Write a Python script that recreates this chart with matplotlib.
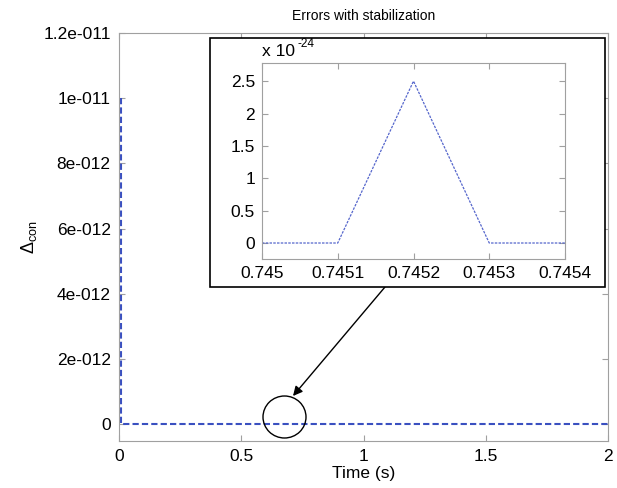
import matplotlib
matplotlib.use("Agg")
import matplotlib.pyplot as plt
from matplotlib.patches import Ellipse, Rectangle

plt.rcParams['font.family'] = ['Liberation Sans', 'DejaVu Sans']
plt.rcParams['mathtext.fontset'] = 'custom'
plt.rcParams['mathtext.rm'] = 'Liberation Sans'
plt.rcParams['mathtext.it'] = 'Liberation Sans:italic'
plt.rcParams['axes.unicode_minus'] = False

# Main series
time_main = [0.01, 0.01, 2.0]
err_main = [1e-11, 0.0, 0.0]
main_yticks = [0, 2e-12, 4e-12, 6e-12, 8e-12, 1e-11, 1.2e-11]
main_yticklabels = ['0', '2e-012', '4e-012', '6e-012', '8e-012', '1e-011', '1.2e-011']
main_xticks = [0, 0.5, 1, 1.5, 2]
main_xticklabels = ['0', '0.5', '1', '1.5', '2']

# Inset series (values in units of 1e-24)
time_inset = [0.745, 0.7451, 0.7452, 0.7453, 0.7454]
err_inset = [0.0, 0.0, 2.5, 0.0, 0.0]
inset_xticks = [0.745, 0.7451, 0.7452, 0.7453, 0.7454]
inset_xticklabels = ['0.745', '0.7451', '0.7452', '0.7453', '0.7454']
inset_yticks = [0, 0.5, 1, 1.5, 2, 2.5]
inset_yticklabels = ['0', '0.5', '1', '1.5', '2', '2.5']

W, H = 617, 488
fig = plt.figure(figsize=(W / 100, H / 100), dpi=100)

def fx(p):
    return p / W

def fy(p):
    return 1 - p / H

grey = '#a0a0a0'
ax = fig.add_axes([fx(119), fy(441), fx(608) - fx(119), fy(33) - fy(441)])
ax.plot(time_main, err_main, color='#3a50c0', linestyle=(0, (3, 1.5)), linewidth=1.5)
ax.set_xlim(0, 2)
ax.set_ylim(-0.52e-12, 1.2e-11)
ax.set_xticks(main_xticks)
ax.set_xticklabels(main_xticklabels)
ax.set_yticks(main_yticks)
ax.set_yticklabels(main_yticklabels)
ax.tick_params(direction='in', top=True, right=True, color=grey, length=4,
               labelsize=12.5, pad=6)
for s in ax.spines.values():
    s.set_color(grey)
ax.set_xlabel('Time (s)', fontsize=12.5, labelpad=1)
ax.set_ylabel('Δ$_{\\mathrm{con}}$', fontsize=13, labelpad=3)
ax.set_title('Errors with stabilization', fontsize=10, pad=9)

# Inset frame
frame = Rectangle((fx(210), fy(287)), fx(605) - fx(210), fy(38) - fy(287),
                  transform=fig.transFigure, facecolor='white', edgecolor='black',
                  linewidth=1.2, zorder=5)
fig.patches.append(frame)

axi = fig.add_axes([fx(262), fy(259), fx(565) - fx(262), fy(63) - fy(259)], zorder=6)
axi.plot(time_inset, err_inset, color='#5566cc', linestyle=(0, (2, 1)), linewidth=0.9)
axi.set_xlim(0.745, 0.7454)
axi.set_ylim(-0.247, 2.78)
axi.set_xticks(inset_xticks)
axi.set_xticklabels(inset_xticklabels)
axi.set_yticks(inset_yticks)
axi.set_yticklabels(inset_yticklabels)
axi.tick_params(direction='in', top=True, right=True, color=grey, length=4,
                labelsize=12.5, pad=5)
for s in axi.spines.values():
    s.set_color(grey)
fig.text(fx(262), fy(51), 'x 10', fontsize=12.5, ha='left', va='center', zorder=7)
fig.text(fx(298), fy(44), '-24', fontsize=8.5, ha='left', va='center', zorder=7)

# Circle and arrow
circ = Ellipse((fx(284.5), fy(417)), 43 / W, 42 / H, transform=fig.transFigure,
               facecolor='none', edgecolor='black', linewidth=1.0, zorder=8)
fig.patches.append(circ)
ax.annotate('', xy=(fx(293), fy(396)), xycoords='figure fraction',
            xytext=(fx(385), fy(287)), textcoords='figure fraction',
            arrowprops=dict(arrowstyle='-|>', color='black', lw=1.0,
                            mutation_scale=14, shrinkA=0, shrinkB=0))

fig.savefig('out.png', dpi=100)
